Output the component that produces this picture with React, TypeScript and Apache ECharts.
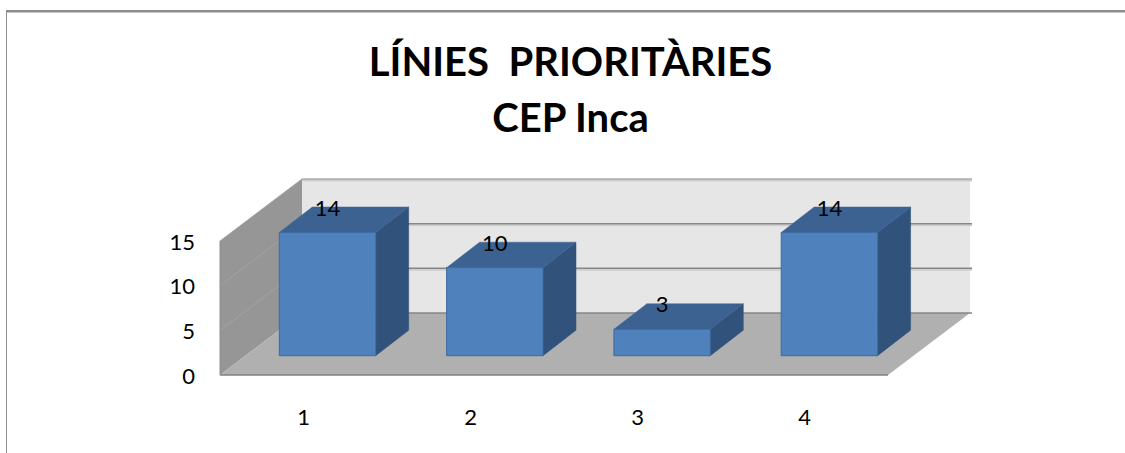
import React, { useEffect, useRef } from "react";
import * as echarts from "echarts";

const titleLines = ["LÍNIES  PRIORITÀRIES", "CEP Inca"];
const categories = ["1", "2", "3", "4"];
const values = [14, 10, 3, 14];
const yTicks = [0, 5, 10, 15];

const FONT = "Lato, 'Noto Sans', sans-serif";
const WALL_DX = 82;
const WALL_DY = -62;
const BAR_DX = 33;
const BAR_DY = -25.5;
const BAR_WIDTH = 96.4;

function poly(points: number[][], fill: string, stroke?: string, lineWidth = 0) {
  return { type: "polygon", shape: { points }, style: { fill, stroke: stroke ?? fill, lineWidth } };
}
function seg(a: number[], b: number[], stroke: string, lineWidth: number) {
  return { type: "line", shape: { x1: a[0], y1: a[1], x2: b[0], y2: b[1] }, style: { stroke, lineWidth } };
}

function renderWalls(params: any, api: any) {
  const c = params.coordSys;
  const l = c.x, r = c.x + c.width, b = c.y + c.height, t = c.y;
  const children: any[] = [
    poly([[l + WALL_DX, t + WALL_DY], [r + WALL_DX, t + WALL_DY], [r + WALL_DX, b + WALL_DY], [l + WALL_DX, b + WALL_DY]], "#e6e6e6"),
    poly([[l, t], [l + WALL_DX, t + WALL_DY], [l + WALL_DX, b + WALL_DY], [l, b]], "#969696"),
    poly([[l, b], [r, b], [r + WALL_DX, b + WALL_DY], [l + WALL_DX, b + WALL_DY]], "#b0b0b0"),
  ];
  yTicks.forEach((v) => {
    const y = api.coord([0, v])[1];
    const isBase = v === 0;
    if (!isBase) {
      children.push(seg([l, y], [l + WALL_DX, y + WALL_DY], "#a3a3a3", 1));
      children.push(seg([l + WALL_DX, y + WALL_DY + 1.5], [r + WALL_DX + 2, y + WALL_DY + 1.5], "#cfcfcf", 2));
    }
    children.push(seg([l + WALL_DX, y + WALL_DY], [r + WALL_DX + 2, y + WALL_DY], "#868686", v === 15 ? 1 : 1.5));
  });
  children.push(seg([l, b], [r, b], "#808080", 1.5));
  children.push(seg([l, t], [l, b], "#8c8c8c", 1));
  return { type: "group", children };
}

function renderBar(params: any, api: any) {
  const idx = api.value(0);
  const v = api.value(1);
  const top = api.coord([idx, v]);
  const base = api.coord([idx, 0]);
  const x0 = top[0] - BAR_WIDTH / 2;
  const x1 = top[0] + BAR_WIDTH / 2;
  return {
    type: "group",
    children: [
      poly([[x1, top[1]], [x1 + BAR_DX, top[1] + BAR_DY], [x1 + BAR_DX, base[1] + BAR_DY], [x1, base[1]]], "#31527a", "#31527a", 0.5),
      poly([[x0, top[1]], [x1, top[1]], [x1 + BAR_DX, top[1] + BAR_DY], [x0 + BAR_DX, top[1] + BAR_DY]], "#3c6292", "#3c6292", 0.5),
      poly([[x0, top[1]], [x1, top[1]], [x1, base[1]], [x0, base[1]]], "#4f81bd", "#3e6ba1", 1),
      {
        type: "text",
        z2: 10,
        style: {
          text: String(v),
          x: top[0],
          y: top[1] - 25.5,
          align: "center",
          verticalAlign: "middle",
          fill: "#000000",
          font: `22px ${FONT}`,
        },
      },
    ],
  };
}

export default function App() {
  const ref = useRef<HTMLDivElement>(null);
  useEffect(() => {
    document.body.style.margin = "0";
    const chart = echarts.init(ref.current!, null, { renderer: "svg" });
    chart.setOption({
      animation: false,
      backgroundColor: "#ffffff",
      title: {
        text: titleLines.join("\n"),
        left: 565.5,
        top: 27.5,
        textAlign: "center",
        textStyle: { fontFamily: FONT, fontWeight: 700, fontSize: 40, lineHeight: 56, color: "#000000" },
      },
      graphic: [
        { type: "rect", shape: { x: 6, y: 10, width: 1119, height: 2.5 }, style: { fill: "#8c8c8c" } },
        { type: "rect", shape: { x: 6, y: 10, width: 1, height: 443 }, style: { fill: "#8c8c8c" } },
      ],
      grid: [
        { left: 220, top: 241, width: 668, height: 134 },
        { left: 243.85, top: 223.7, width: 669.2, height: 132 },
      ],
      xAxis: [
        {
          type: "category",
          gridIndex: 0,
          data: categories,
          axisLine: { show: false },
          axisTick: { show: false },
          axisLabel: { margin: 30, fontSize: 22, fontFamily: FONT, color: "#000000" },
        },
        { type: "category", gridIndex: 1, data: categories, show: false },
      ],
      yAxis: [
        {
          type: "value",
          gridIndex: 0,
          min: 0,
          max: 15,
          interval: 5,
          splitLine: { show: false },
          axisLine: { show: false },
          axisTick: { show: false },
          axisLabel: { margin: 25, fontSize: 22, fontFamily: FONT, color: "#000000", padding: [2, 0, 0, 0] },
        },
        { type: "value", gridIndex: 1, min: 0, max: 15, interval: 5, show: false },
      ],
      series: [
        {
          type: "custom",
          xAxisIndex: 0,
          yAxisIndex: 0,
          z: 1,
          silent: true,
          data: [[0, 0]],
          renderItem: renderWalls,
        },
        {
          type: "custom",
          xAxisIndex: 1,
          yAxisIndex: 1,
          z: 2,
          silent: true,
          data: values.map((v, i) => [i, v]),
          encode: { x: 0, y: 1 },
          renderItem: renderBar,
        },
      ],
    });
    return () => chart.dispose();
  }, []);
  return <div ref={ref} style={{ width: 1125, height: 453 }} />;
}
